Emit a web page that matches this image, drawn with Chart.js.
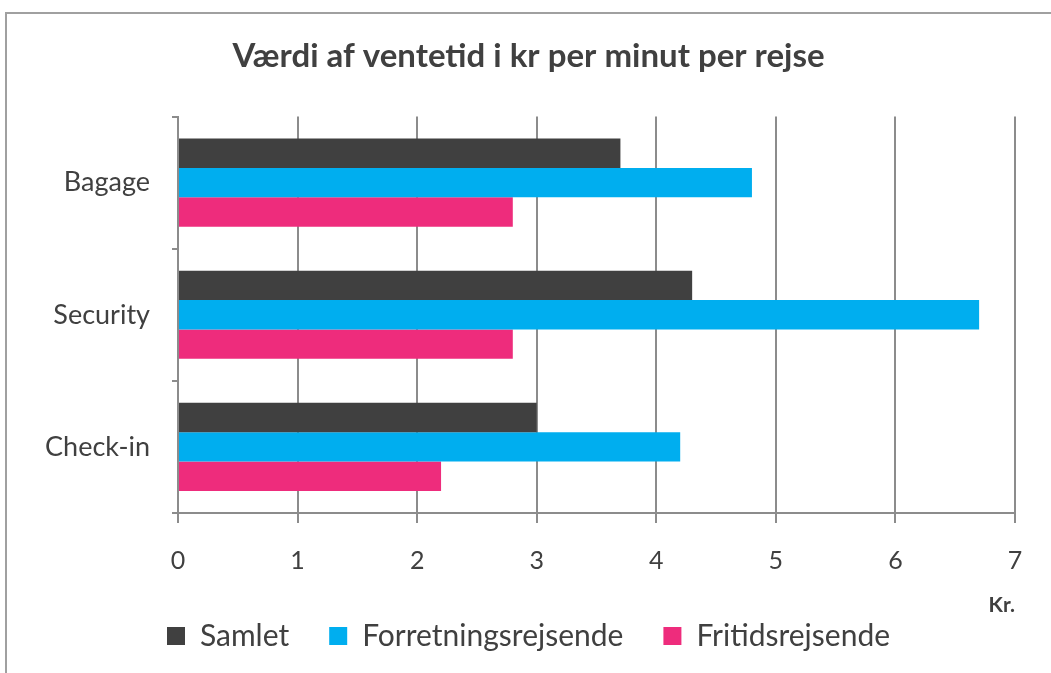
<!DOCTYPE html>
<html>
<head>
<meta charset="utf-8">
<script src="https://cdn.jsdelivr.net/npm/chart.js@4.4.0/dist/chart.umd.min.js"></script>
<style>
  html, body { margin: 0; padding: 0; background: #fff; overflow: hidden; }
  #frame {
    position: absolute; left: 5px; top: 12px;
    width: 1100px; height: 700px;
    border: 2px solid #a0a0a0;
  }
  #wrap { position: absolute; left: 0; top: 0; width: 1051px; height: 673px; }
</style>
</head>
<body>
<div id="frame"></div>
<div id="wrap"><canvas id="chart"></canvas></div>
<script>
const categories = ['Bagage', 'Security', 'Check-in'];
const seriesNames = ['Samlet', 'Forretningsrejsende', 'Fritidsrejsende'];
const samlet = [3.7, 4.3, 3.0];
const forretning = [4.8, 6.7, 4.2];
const fritid = [2.8, 2.8, 2.2];
const seriesColors = ['#404040', '#00aeef', '#ee2c7c'];
const xTicks = [0, 1, 2, 3, 4, 5, 6, 7];

const FONT = 'Lato, "Open Sans", sans-serif';
const TEXT = '#404040';
const GRID = '#8c8c8c';

const seriesValues = [samlet, forretning, fritid];

new Chart(document.getElementById('chart'), {
  type: 'bar',
  data: {
    labels: categories,
    datasets: seriesNames.map((name, i) => {
      return {
        label: name,
        data: seriesValues[i],
        backgroundColor: seriesColors[i],
        borderWidth: 0,
        categoryPercentage: 0.667,
        barPercentage: 1.0
      };
    })
  },
  options: {
    indexAxis: 'y',
    responsive: true,
    maintainAspectRatio: false,
    animation: false,
    layout: { padding: { left: 42, right: 36, top: 0, bottom: 12 } },
    plugins: {
      title: {
        display: true,
        text: 'Værdi af ventetid i kr per minut per rejse',
        color: TEXT,
        font: { family: FONT, size: 33, weight: 'bold' },
        padding: { top: 37, bottom: 40 }
      },
      legend: {
        position: 'bottom',
        labels: {
          color: TEXT,
          font: { family: FONT, size: 30 },
          boxWidth: 18,
          boxHeight: 18,
          padding: 40
        }
      },
      tooltip: { enabled: false }
    },
    scales: {
      x: {
        min: 0,
        max: 7,
        afterBuildTicks: scale => {
          scale.ticks = xTicks.map(v => ({ value: v }));
        },
        afterFit: scale => { scale.height = 68; },
        ticks: {
          color: TEXT,
          font: { family: FONT, size: 25 },
          padding: 23
        },
        grid: {
          color: GRID,
          lineWidth: 2,
          tickLength: 10
        },
        border: { color: GRID, width: 2 },
        title: {
          display: true,
          text: 'Kr.',
          align: 'end',
          color: TEXT,
          font: { family: FONT, size: 21, weight: 'bold' },
          padding: { top: 0, bottom: -37 }
        }
      },
      y: {
        afterFit: scale => { scale.width = 136; },
        ticks: {
          color: TEXT,
          font: { family: FONT, size: 27 },
          padding: 22
        },
        grid: {
          drawOnChartArea: false,
          color: GRID,
          lineWidth: 2,
          tickLength: 6
        },
        border: { color: GRID, width: 2 }
      }
    }
  }
});
</script>
</body>
</html>
